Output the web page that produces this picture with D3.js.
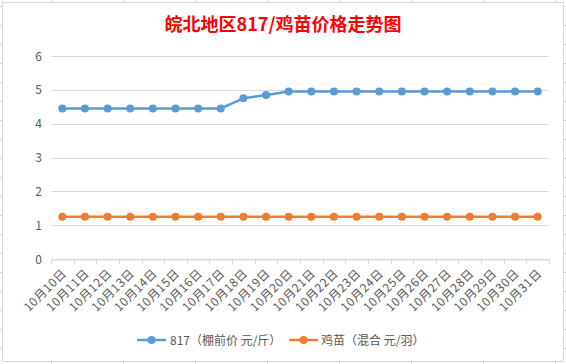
<!DOCTYPE html>
<html><head><meta charset="utf-8">
<script src="https://cdn.jsdelivr.net/npm/d3@7"></script>
<style>
html,body{margin:0;padding:0;background:#fff;}
svg{display:block;font-family:"Noto Sans CJK SC","Noto Sans",sans-serif;}
</style></head>
<body>
<svg id="c" width="566" height="364"></svg>
<script>
const categories = ["10月10日","10月11日","10月12日","10月13日","10月14日","10月15日","10月16日","10月17日","10月18日","10月19日","10月20日","10月21日","10月22日","10月23日","10月24日","10月25日","10月26日","10月27日","10月28日","10月29日","10月30日","10月31日"];
const series817 = [4.45,4.45,4.45,4.45,4.45,4.45,4.45,4.45,4.75,4.85,4.95,4.95,4.95,4.95,4.95,4.95,4.95,4.95,4.95,4.95,4.95,4.95];
const seriesChick = [1.25,1.25,1.25,1.25,1.25,1.25,1.25,1.25,1.25,1.25,1.25,1.25,1.25,1.25,1.25,1.25,1.25,1.25,1.25,1.25,1.25,1.25];
const yTicks = [0,1,2,3,4,5,6];
const seriesNames = ["817（棚前价 元/斤）","鸡苗（混合 元/羽）"];
const title = "皖北地区817/鸡苗价格走势图";
const colors = ["#5B9BD5","#ED7D31"];

const svg = d3.select("#c");

// spreadsheet grid fragments outside chart
const gridCol = "#D4D4D4";
const colXs = [51,123,195,267,339,411,483,555];
const rowYs = d3.range(6, 364, 19);
colXs.forEach(x=>{
  svg.append("line").attr("x1",x+0.5).attr("x2",x+0.5).attr("y1",0).attr("y2",2).attr("stroke",gridCol);
  svg.append("line").attr("x1",x+0.5).attr("x2",x+0.5).attr("y1",362).attr("y2",364).attr("stroke",gridCol);
});
rowYs.forEach(y=>{
  svg.append("line").attr("x1",0).attr("x2",2).attr("y1",y+0.5).attr("y2",y+0.5).attr("stroke",gridCol);
  svg.append("line").attr("x1",564).attr("x2",566).attr("y1",y+0.5).attr("y2",y+0.5).attr("stroke",gridCol);
});
// chart border
svg.append("rect").attr("x",2.5).attr("y",2.5).attr("width",561).attr("height",359)
  .attr("fill","#fff").attr("stroke","#D9D9D9").attr("stroke-width",1);

// title
svg.append("text").attr("x",283).attr("y",31).attr("text-anchor","middle")
  .attr("fill","#FF0000").attr("font-size",18).attr("font-weight","bold").text(title);

const x = d3.scaleBand().domain(categories).range([51,549]);
const y = d3.scaleLinear().domain([0,6]).range([259,56]);

// gridlines
svg.append("g").selectAll("line").data(yTicks).join("line")
  .attr("x1",51).attr("x2",549)
  .attr("y1",d=>Math.round(y(d))+0.5).attr("y2",d=>Math.round(y(d))+0.5)
  .attr("stroke","#D9D9D9");

// y axis labels
svg.append("g").selectAll("text").data(yTicks).join("text")
  .attr("x",42).attr("y",d=>y(d)+4.5).attr("text-anchor","end")
  .attr("fill","#595959").attr("font-size",12).text(d=>d);

// x axis
const xAxis = d3.axisBottom(x).tickSize(0).tickFormat("");
const gx = svg.append("g").attr("transform",`translate(0,${Math.round(y(0))+0.5})`).call(xAxis);
gx.select(".domain").attr("stroke","#D9D9D9");
// tick marks at band boundaries
const bounds = categories.map(c=>x(c)).concat([x.range()[1]]);
svg.append("g").selectAll("line").data(bounds).join("line")
  .attr("x1",d=>Math.round(d)+0.5).attr("x2",d=>Math.round(d)+0.5)
  .attr("y1",259).attr("y2",264).attr("stroke","#D9D9D9");

// x labels rotated
svg.append("g").selectAll("text").data(categories).join("text")
  .attr("transform",d=>`translate(${x(d)+x.bandwidth()/2+2},${271}) rotate(-45)`)
  .attr("text-anchor","end").attr("dy","0.35em")
  .attr("fill","#595959").attr("font-size",12).attr("letter-spacing",0.6).text(d=>d);

// lines
const line = d3.line().x((d,i)=>x(categories[i])+x.bandwidth()/2).y(d=>y(d));
[series817, seriesChick].forEach((s,k)=>{
  svg.append("path").datum(s).attr("d",line).attr("fill","none")
    .attr("stroke",colors[k]).attr("stroke-width",2.5).attr("stroke-linejoin","round");
  svg.append("g").selectAll("circle").data(s).join("circle")
    .attr("cx",(d,i)=>x(categories[i])+x.bandwidth()/2).attr("cy",d=>y(d))
    .attr("r",4).attr("fill",colors[k]);
});

// legend
const legendItems = [{x:137, tx:170},{x:289, tx:321}];
legendItems.forEach((L,k)=>{
  const ly = 340;
  svg.append("line").attr("x1",L.x).attr("x2",L.x+29).attr("y1",ly).attr("y2",ly)
    .attr("stroke",colors[k]).attr("stroke-width",2.5);
  svg.append("circle").attr("cx",L.x+14.5).attr("cy",ly).attr("r",4).attr("fill",colors[k]);
  svg.append("text").attr("x",L.tx).attr("y",ly+4.5).attr("fill","#595959")
    .attr("font-size",12).text(seriesNames[k]);
});
</script>
</body></html>
